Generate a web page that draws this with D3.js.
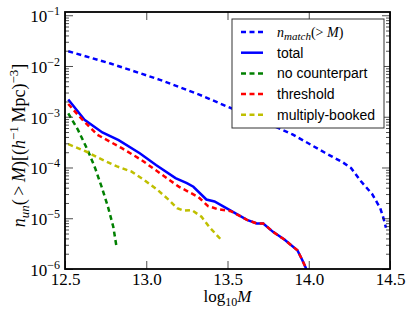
<!DOCTYPE html>
<html>
<head>
<meta charset="utf-8">
<script src="https://cdn.jsdelivr.net/npm/d3@7"></script>
<style>
  body { margin: 0; background: #fff; }
  svg text { font-family: "Liberation Serif", "DejaVu Serif", serif; }
  .tick line { stroke: #222; stroke-width: 0.8; }
  .legend text { font-family: "Liberation Sans", Arial, sans-serif; font-size: 14px; }
</style>
</head>
<body>
<div id="chart"></div>
<script>
// n_match(>M)
var matchM = [12.52, 12.78, 13.08, 13.33, 13.50, 13.70, 13.90, 14.10, 14.21, 14.26, 14.32, 14.39, 14.44, 14.46, 14.475];
var matchN = [1.95e-2, 1.12e-2, 5.4e-3, 2.7e-3, 1.58e-3, 8.7e-4, 4.5e-4, 1.95e-4, 1.26e-4, 9.8e-5, 5.4e-5, 3.0e-5, 1.58e-5, 1.0e-5, 6.5e-6];

// total
var totalM = [12.52, 12.62, 12.73, 12.83, 12.96, 13.06, 13.18, 13.25, 13.29, 13.37, 13.42, 13.52, 13.62, 13.68, 13.72, 13.78, 13.85, 13.93, 13.96, 13.985];
var totalN = [2.19e-3, 8.7e-4, 4.9e-4, 3.47e-4, 1.91e-4, 1.12e-4, 6.2e-5, 4.9e-5, 4.17e-5, 2.34e-5, 2.14e-5, 1.41e-5, 9.3e-6, 7.9e-6, 7.9e-6, 5.4e-6, 3.8e-6, 2.34e-6, 1.51e-6, 1.0e-6];

// no counterpart
var noCpM = [12.52, 12.58, 12.64, 12.685, 12.725, 12.765, 12.797, 12.818];
var noCpN = [1.17e-3, 5.5e-4, 2.19e-4, 9.8e-5, 4.2e-5, 1.66e-5, 6.8e-6, 2.63e-6];

// threshold
var threshM = [12.52, 12.59, 12.70, 12.85, 12.97, 13.10, 13.20, 13.32, 13.38, 13.44, 13.52, 13.62, 13.68, 13.72, 13.78, 13.85, 13.93, 13.96, 13.985];
var threshN = [1.78e-3, 1.0e-3, 4.4e-4, 2.4e-4, 1.41e-4, 7.1e-5, 4.2e-5, 2.63e-5, 1.74e-5, 1.51e-5, 1.38e-5, 9.3e-6, 7.9e-6, 7.9e-6, 5.4e-6, 3.8e-6, 2.34e-6, 1.51e-6, 1.0e-6];

// multiply-booked
var multiM = [12.52, 12.64, 12.70, 12.82, 12.91, 12.99, 13.07, 13.14, 13.19, 13.23, 13.28, 13.34, 13.39, 13.46];
var multiN = [2.88e-4, 2.0e-4, 1.58e-4, 1.05e-4, 8.3e-5, 5.6e-5, 3.6e-5, 2.29e-5, 1.58e-5, 1.41e-5, 1.45e-5, 1.07e-5, 6.6e-6, 3.8e-6];

var xTicks = [12.5, 13.0, 13.5, 14.0, 14.5];
var yTicks = [1e-1, 1e-2, 1e-3, 1e-4, 1e-5, 1e-6];
var yExps = [-1, -2, -3, -4, -5, -6];

var width = 415, height = 312;
var margin = { top: 12, right: 25, bottom: 43, left: 65 };
var w = width - margin.left - margin.right;
var h = height - margin.top - margin.bottom;

var svg = d3.select('#chart').append('svg')
    .attr('width', width)
    .attr('height', height);

var g = svg.append('g')
    .attr('transform', 'translate(' + margin.left + ',' + margin.top + ')');

var xScale = d3.scaleLinear().domain([12.5, 14.5]).range([0, w]);
var yScale = d3.scaleLog().domain([1e-6, Math.pow(10, -0.936)]).range([h, 0]);

// minor ticks for the log axis
var yMinor = [];
for (var e = -6; e < -1; e++) {
    for (var k = 2; k <= 9; k++) yMinor.push(k * Math.pow(10, e));
}

var plot = g.append('g');
plot.append('clipPath').attr('id', 'clip')
    .append('rect').attr('width', w).attr('height', h);

var line = d3.line()
    .x(function (d) { return xScale(d[0]); })
    .y(function (d) { return yScale(d[1]); });

var series = [
    { name: 'match', m: matchM, n: matchN, color: '#0000ff', dash: '5,3.5' },
    { name: 'total', m: totalM, n: totalN, color: '#0000ff', dash: null },
    { name: 'nocp', m: noCpM, n: noCpN, color: '#008000', dash: '5,3.5' },
    { name: 'thresh', m: threshM, n: threshN, color: '#ff0000', dash: '5,3.5' },
    { name: 'multi', m: multiM, n: multiN, color: '#bfbf00', dash: '5,3.5' }
];

series.forEach(function (s) {
    var pts = s.m.map(function (m, i) { return [m, s.n[i]]; });
    plot.append('path')
        .datum(pts)
        .attr('clip-path', 'url(#clip)')
        .attr('fill', 'none')
        .attr('stroke', s.color)
        .attr('stroke-width', 2.5)
        .attr('stroke-dasharray', s.dash)
        .attr('d', line);
});

// Draw axes (ticks inside, on all four sides)
var xAxisB = d3.axisBottom(xScale).tickValues(xTicks).tickSize(-8).tickSizeOuter(0)
    .tickPadding(4).tickFormat(d3.format('.1f'));
var xAxisT = d3.axisTop(xScale).tickValues(xTicks).tickSize(-8).tickSizeOuter(0).tickFormat('');
var yAxisL = d3.axisLeft(yScale).tickValues(yTicks).tickSize(-8).tickSizeOuter(0).tickPadding(5).tickFormat('');
var yAxisR = d3.axisRight(yScale).tickValues(yTicks).tickSize(-8).tickSizeOuter(0).tickFormat('');
var yMinL = d3.axisLeft(yScale).tickValues(yMinor).tickSize(-4).tickSizeOuter(0).tickFormat('');
var yMinR = d3.axisRight(yScale).tickValues(yMinor).tickSize(-4).tickSizeOuter(0).tickFormat('');

var gxb = g.append('g').attr('transform', 'translate(0,' + h + ')').call(xAxisB);
g.append('g').call(xAxisT);
var gyl = g.append('g').call(yAxisL);
g.append('g').attr('transform', 'translate(' + w + ',0)').call(yAxisR);
g.append('g').call(yMinL);
g.append('g').attr('transform', 'translate(' + w + ',0)').call(yMinR);
g.selectAll('.domain').remove();

gxb.selectAll('text')
    .attr('font-size', 17)
    .attr('fill', '#000')
    .attr('font-family', '"Liberation Serif", serif');

// y tick labels as 10^n
gyl.selectAll('.tick').each(function (d, i) {
    var t = d3.select(this).append('text')
        .attr('x', -5)
        .attr('dy', '0.38em')
        .attr('text-anchor', 'end')
        .attr('fill', '#000')
        .attr('font-size', 17);
    t.append('tspan').text('10');
    t.append('tspan').attr('dy', -7).attr('font-size', 12).text('\u2212' + Math.abs(yExps[i]));
});

// frame
g.append('rect')
    .attr('width', w).attr('height', h)
    .attr('fill', 'none')
    .attr('stroke', '#000')
    .attr('stroke-width', 1.8);

// axis labels
var xl = svg.append('text')
    .attr('x', margin.left + w / 2)
    .attr('y', 302)
    .attr('text-anchor', 'middle')
    .attr('font-size', 17);
xl.append('tspan').text('log');
xl.append('tspan').attr('dy', 4).attr('font-size', 12).text('10');
xl.append('tspan').attr('dy', -4).attr('font-style', 'italic').text('M');

var yl = svg.append('text')
    .attr('transform', 'translate(25,' + (margin.top + h / 2 + 5) + ') rotate(-90)')
    .attr('text-anchor', 'middle')
    .attr('font-size', 18);
yl.append('tspan').attr('font-style', 'italic').text('n');
yl.append('tspan').attr('dy', 4).attr('font-size', 13).attr('font-style', 'italic').text('un');
yl.append('tspan').attr('dy', -4).text('(\u2009>\u2009');
yl.append('tspan').attr('font-style', 'italic').text('M');
yl.append('tspan').text(')[(');
yl.append('tspan').attr('font-style', 'italic').text('h');
yl.append('tspan').attr('dy', -7).attr('font-size', 13).text('\u22121');
yl.append('tspan').attr('dy', 7).text('\u2009Mpc)');
yl.append('tspan').attr('dy', -7).attr('font-size', 13).text('\u22123');
yl.append('tspan').attr('dy', 7).text(']');

// legend
var legend = svg.append('g').attr('class', 'legend')
    .attr('transform', 'translate(232,19)');
legend.append('rect')
    .attr('width', 152).attr('height', 109)
    .attr('fill', '#fff')
    .attr('stroke', '#333')
    .attr('stroke-width', 1);

var legendLabels = ['match', 'total', 'no counterpart', 'threshold', 'multiply-booked'];
series.forEach(function (s, i) {
    var y = 13 + i * 20.7;
    legend.append('line')
        .attr('x1', 9).attr('x2', 31)
        .attr('y1', y).attr('y2', y)
        .attr('stroke', s.color)
        .attr('stroke-width', 2.5)
        .attr('stroke-dasharray', s.dash);
    var t = legend.append('text').attr('x', 45).attr('y', y + 5);
    if (i === 0) {
        t.style('font-family', '"Liberation Serif", serif').attr('font-size', 16);
        t.append('tspan').attr('font-style', 'italic').text('n');
        t.append('tspan').attr('dy', 3).attr('font-size', 11).attr('font-style', 'italic').text('match');
        t.append('tspan').attr('dy', -3).text('(> ');
        t.append('tspan').attr('font-style', 'italic').text('M');
        t.append('tspan').text(')');
    } else {
        t.text(legendLabels[i]);
    }
});
</script>
</body>
</html>
